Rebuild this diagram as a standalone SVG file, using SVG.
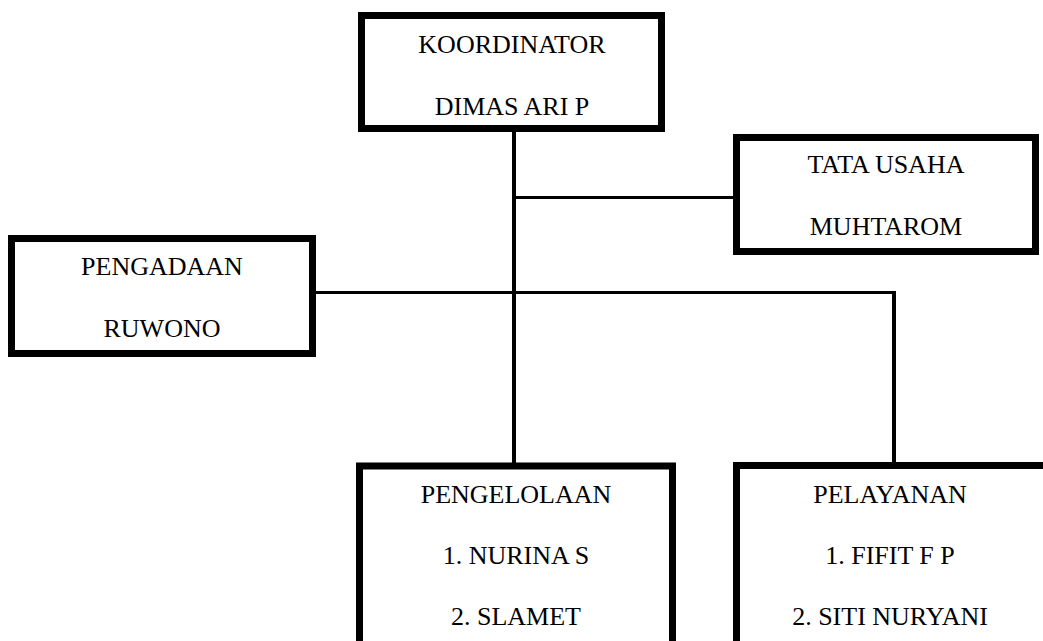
<svg xmlns="http://www.w3.org/2000/svg" width="1043" height="641" viewBox="0 0 1043 641">
<style>
.box{fill:#fff;stroke:#000;stroke-width:7}
.t{font-family:"Liberation Serif","Times New Roman",serif;font-size:26px;fill:#000;text-anchor:middle}
.v{stroke:#000;stroke-width:4;fill:none}
.h{stroke:#000;stroke-width:3;fill:none}
</style>
<rect width="1043" height="641" fill="#fff"/>
<g id="connectors">
<line class="v" x1="514" y1="130" x2="514" y2="465"/>
<line class="h" x1="514" y1="197.5" x2="735" y2="197.5"/>
<line class="h" x1="313" y1="292.5" x2="896" y2="292.5"/>
<line class="v" x1="894" y1="291" x2="894" y2="465"/>
</g>
<g id="koordinator">
<rect class="box" x="361.5" y="15.5" width="300" height="113"/>
<text class="t" x="512" y="53">KOORDINATOR</text>
<text class="t" x="512" y="115">DIMAS ARI P</text>
</g>
<g id="tata-usaha">
<rect class="box" x="736.5" y="137.5" width="299" height="114"/>
<text class="t" x="886" y="173">TATA USAHA</text>
<text class="t" x="886" y="235">MUHTAROM</text>
</g>
<g id="pengadaan">
<rect class="box" x="11.5" y="238.5" width="301" height="115"/>
<text class="t" x="162" y="275">PENGADAAN</text>
<text class="t" x="162" y="337">RUWONO</text>
</g>
<g id="pengelolaan">
<rect class="box" x="359.5" y="466" width="313" height="200"/>
<text class="t" x="516" y="503">PENGELOLAAN</text>
<text class="t" x="516" y="564">1. NURINA S</text>
<text class="t" x="516" y="625">2. SLAMET</text>
</g>
<g id="pelayanan">
<rect class="box" x="736.5" y="465.5" width="310" height="200"/>
<text class="t" x="890" y="503">PELAYANAN</text>
<text class="t" x="890" y="564">1. FIFIT F P</text>
<text class="t" x="890" y="625">2. SITI NURYANI</text>
</g>
</svg>
